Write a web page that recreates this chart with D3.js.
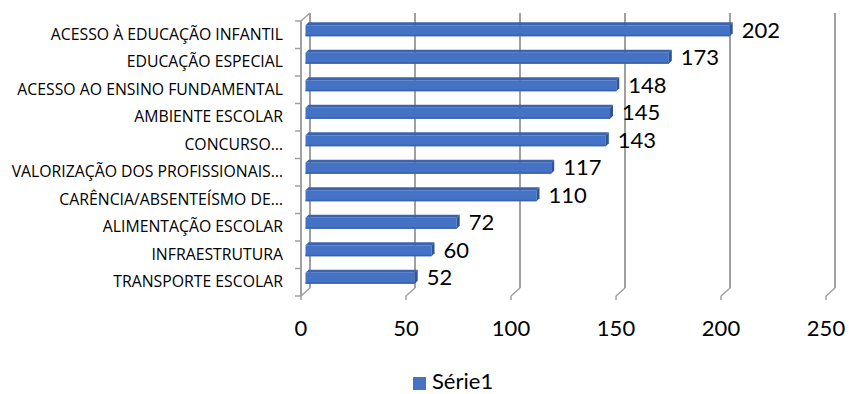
<!DOCTYPE html>
<html>
<head>
<meta charset="utf-8">
<script src="https://cdn.jsdelivr.net/npm/d3@7"></script>
<style>
  html, body { margin: 0; padding: 0; background: #fff; }
  svg { display: block; }
  text { font-family: Lato, "Open Sans", sans-serif; fill: #000; }
  text.cat { font-family: "Open Sans", Lato, sans-serif; }
</style>
</head>
<body>
<svg id="chart" width="849" height="394"></svg>
<script>
// Categories, top to bottom
const categories = [
  "ACESSO À EDUCAÇÃO INFANTIL",
  "EDUCAÇÃO ESPECIAL",
  "ACESSO AO ENSINO FUNDAMENTAL",
  "AMBIENTE ESCOLAR",
  "CONCURSO…",
  "VALORIZAÇÃO DOS PROFISSIONAIS…",
  "CARÊNCIA/ABSENTEÍSMO DE…",
  "ALIMENTAÇÃO ESCOLAR",
  "INFRAESTRUTURA",
  "TRANSPORTE ESCOLAR"
];
const values = [202, 173, 148, 145, 143, 117, 110, 72, 60, 52];
const xTicks = [0, 50, 100, 150, 200, 250];
const seriesName = "Série1";

const svg = d3.select("#chart");

// 3D look: back wall is shifted by (depthX, depthY) from the front plane
const depthX = 9, depthY = -8;
const barShiftX = depthX / 2, barShiftY = depthY / 2;
const barH = 11, endW = 3;

const x = d3.scaleLinear().domain([0, 250]).range([301, 826]);
const y = d3.scaleBand().domain(categories).range([21, 296]).paddingInner(0).paddingOuter(0);

const gridColor = "#a0a0a0";
const g = svg.append("g");

// back-wall gridlines and floor diagonals
xTicks.forEach(t => {
  const fx = x(t), bx = fx + depthX;
  g.append("line").attr("x1", bx).attr("x2", bx)
    .attr("y1", 21 + depthY).attr("y2", 296 + depthY)
    .attr("stroke", gridColor).attr("stroke-width", 2);
  g.append("line").attr("x1", fx).attr("y1", 296).attr("x2", bx).attr("y2", 296 + depthY)
    .attr("stroke", gridColor).attr("stroke-width", 1.5);
  // small tick under the floor
  g.append("line").attr("x1", fx).attr("x2", fx).attr("y1", 296).attr("y2", 300)
    .attr("stroke", gridColor).attr("stroke-width", 1.5);
});

// left side wall: front edge and top diagonal
g.append("line").attr("x1", x(0)).attr("x2", x(0)).attr("y1", 21).attr("y2", 296)
  .attr("stroke", gridColor).attr("stroke-width", 2);
g.append("line").attr("x1", x(0)).attr("y1", 21).attr("x2", x(0) + depthX).attr("y2", 21 + depthY)
  .attr("stroke", gridColor).attr("stroke-width", 1.5);

// category ticks on the left
d3.range(categories.length + 1).forEach(i => {
  const yy = 21 + i * y.step();
  g.append("line").attr("x1", x(0) - 6).attr("x2", x(0)).attr("y1", yy).attr("y2", yy)
    .attr("stroke", gridColor).attr("stroke-width", 1.5);
});

// bars
const bars = g.selectAll("g.bar").data(values).enter().append("g").attr("class", "bar");
bars.each(function(v, i) {
  const sel = d3.select(this);
  const cy = y(categories[i]) + y.bandwidth() / 2 + barShiftY;
  const x0 = x(0) + barShiftX, x1 = x(v) + barShiftX;
  const yt = cy - barH / 2, yb = cy + barH / 2;
  // top face
  sel.append("path")
    .attr("d", `M${x0},${yt}L${x1},${yt}L${x1 + endW},${yt - endW}L${x0 + endW},${yt - endW}Z`)
    .attr("fill", "#3a64b0");
  // front face
  sel.append("rect").attr("x", x0).attr("y", yt).attr("width", x1 - x0).attr("height", barH)
    .attr("fill", "#4472c4");
  // bottom shading strip
  sel.append("rect").attr("x", x0).attr("y", yb - 1.5).attr("width", x1 - x0).attr("height", 1.5)
    .attr("fill", "#3a62ad");
  // right end face
  sel.append("path")
    .attr("d", `M${x1},${yt}L${x1 + endW},${yt - endW}L${x1 + endW},${yb - endW}L${x1},${yb}Z`)
    .attr("fill", "#2f5597");
  // value label
  sel.append("text").attr("x", x1 + endW + 9).attr("y", cy + 1.5)
    .attr("dominant-baseline", "middle")
    .style("font-size", "22px")
    .text(v);
});

// category labels
g.selectAll("text.cat").data(categories).enter().append("text")
  .attr("class", "cat")
  .attr("x", 283)
  .attr("y", d => y(d) + y.bandwidth() / 2 + 1)
  .attr("text-anchor", "end")
  .attr("dominant-baseline", "middle")
  .style("font-size", "15.8px")
  .text(d => d);

// value axis labels
g.selectAll("text.xt").data(xTicks).enter().append("text")
  .attr("class", "xt")
  .attr("x", d => x(d))
  .attr("y", 330)
  .attr("text-anchor", "middle")
  .attr("dominant-baseline", "middle")
  .style("font-size", "22px")
  .text(d => d);

// legend
const lg = svg.append("g");
lg.append("rect").attr("x", 413).attr("y", 377).attr("width", 13).attr("height", 13).attr("fill", "#4472c4");
lg.append("text").attr("x", 432).attr("y", 383).attr("dominant-baseline", "middle")
  .style("font-size", "22px").text(seriesName);
</script>
</body>
</html>
